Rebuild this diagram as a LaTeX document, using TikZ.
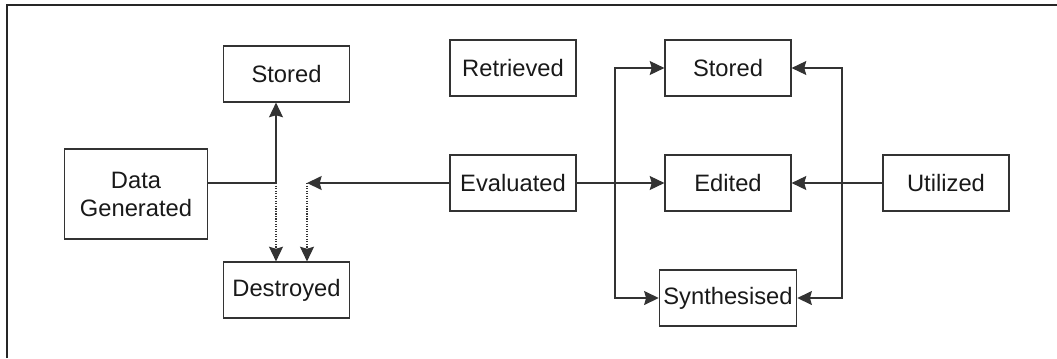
\documentclass[tikz,border=0pt]{standalone}
\usepackage{fontspec}
\setmainfont{Liberation Sans}
\usepackage{tikz}
\usetikzlibrary{arrows.meta}
\usetikzlibrary{positioning}

\begin{document}
\begin{tikzpicture}[x=0.75pt,y=-0.75pt,
        box/.style={draw=black!80, line width=0.9pt, text=black!90, inner sep=3pt,
            minimum width=94.5pt, minimum height=42pt,
            font=\fontsize{17.8}{21}\selectfont, align=center},
        link/.style={draw=black!80, line width=0.9pt},
        tip/.style={link, -{Stealth[length=11pt,width=10.5pt,inset=1.5pt]}},
        dottip/.style={tip, densely dotted}]
        \useasboundingbox (0,0) rectangle (1057,358);
        \draw[black!85, line width=2.2pt] (7,358) -- (7,5) -- (1057,5);

        \node[box, minimum width=107pt, minimum height=67.5pt] (datagen) at (136,194) {Data\\Generated};
        \node[box] (storedA) at (286.5,74) {Stored};
        \node[box] (destroyed) at (286.5,290) {Destroyed};
        \node[box] (retrieved) at (513,68) {Retrieved};
        \node[box] (evaluated) at (513,183) {Evaluated};
        \node[box] (storedB) at (728,68) {Stored};
        \node[box] (edited) at (728,183) {Edited};
        \node[box] (synth) at (728,298) {Synthesised};
        \node[box] (utilized) at (946,183) {Utilized};

        % split points on the middle row
        \coordinate (j1) at (276,183);
        \coordinate (j2) at (307,183);
        \coordinate (b1) at (615,183);
        \coordinate (b2) at (842,183);

        \draw[link] (datagen.east |- j1) -- (j1);
        \draw[tip] (j1) -- (j1 |- storedA.south);
        \draw[dottip] (j1) -- (j1 |- destroyed.north);
        \draw[tip] (evaluated.west) -- (j2);
        \draw[dottip] (j2) -- (j2 |- destroyed.north);

        \draw[tip] (evaluated.east) -- (edited.west);
        \draw[tip] (b1) |- (storedB.west);
        \draw[tip] (b1) |- (synth.west);

        \draw[tip] (utilized.west) -- (edited.east);
        \draw[tip] (b2) |- (storedB.east);
        \draw[tip] (b2) |- (synth.east);
    \end{tikzpicture}
\end{document}
